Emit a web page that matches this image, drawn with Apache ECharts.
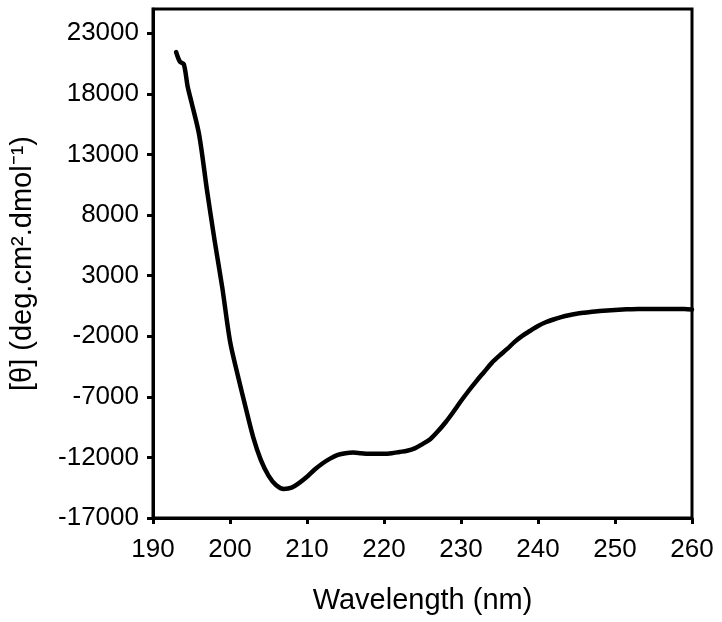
<!DOCTYPE html>
<html>
<head>
<meta charset="utf-8">
<script src="https://cdn.jsdelivr.net/npm/echarts@6/dist/echarts.min.js"></script>
<style>
	html, body { margin: 0; padding: 0; background: #fff; }
	#chart { width: 722px; height: 622px; }
</style>
</head>
<body>
<div id="chart"></div>
<script>
	// CD spectrum, wavelength (nm) vs mean residue ellipticity
	const wavelength = [193, 193.5, 194, 194.5, 195, 196, 197, 198, 199, 200,
		201, 202, 203, 204, 205, 206, 207, 208, 209, 210,
		211, 212, 213, 214, 215, 216, 217, 218, 219, 220,
		221, 222, 223, 224, 225, 226, 227, 228, 229, 230,
		231, 232, 233, 234, 235, 236, 237, 238, 239, 240,
		241, 242, 243, 244, 245, 246, 247, 248, 249, 250,
		251, 252, 253, 254, 255, 256, 257, 258, 259, 260]
	const theta = [21450, 20650, 20450, 18600, 17300, 14600, 10100, 5900, 2000, -2400,
		-5200, -7800, -10300, -12200, -13500, -14300, -14600, -14500, -14100, -13600,
		-13000, -12500, -12100, -11800, -11650, -11600, -11650, -11700, -11700, -11700,
		-11650, -11550, -11450, -11250, -10900, -10500, -9850, -9100, -8250, -7350,
		-6500, -5700, -4950, -4200, -3600, -3050, -2450, -1950, -1550, -1150,
		-850, -620, -430, -270, -150, -60, 20, 80, 130, 170,
		200, 230, 250, 250, 250, 250, 250, 250, 250, 200]
	const yTicks = [-17000, -12000, -7000, -2000, 3000, 8000, 13000, 18000, 23000]

	const font = 'Liberation Sans, Arial, sans-serif'
	const chart = echarts.init(document.getElementById('chart'))

	chart.setOption({
		animation: false,
		grid: {
			left: 152,
			right: 30,
			top: 9,
			bottom: 104,
			show: true,
			borderColor: '#000',
			borderWidth: 3
		},
		xAxis: {
			type: 'value',
			min: 190,
			max: 260,
			interval: 10,
			name: 'Wavelength (nm)',
			nameLocation: 'middle',
			nameGap: 68,
			nameTextStyle: { fontFamily: font, fontSize: 29, color: '#000' },
			axisLine: { onZero: false, lineStyle: { color: '#000', width: 3 } },
			axisTick: { length: 6, lineStyle: { color: '#000', width: 3 } },
			axisLabel: { margin: 19, fontFamily: font, fontSize: 26, color: '#000' },
			splitLine: { show: false }
		},
		yAxis: {
			type: 'value',
			min: -17000,
			max: 25000,
			name: '[θ] (deg.cm².dmol⁻¹)',
			nameLocation: 'middle',
			nameGap: 116,
			nameTextStyle: { fontFamily: font, fontSize: 29, color: '#000' },
			axisLine: { lineStyle: { color: '#000', width: 3 } },
			axisTick: { length: 6, customValues: yTicks, lineStyle: { color: '#000', width: 3 } },
			axisLabel: {
				margin: 14,
				customValues: yTicks,
				fontFamily: font,
				fontSize: 26,
				color: '#000',
				formatter: v => String(v)
			},
			splitLine: { show: false }
		},
		series: [{
			type: 'line',
			data: wavelength.map((w, i) => [w, theta[i]]),
			showSymbol: false,
			smooth: 0.3,
			lineStyle: { color: '#000', width: 4.5, cap: 'round', join: 'round' }
		}]
	})
</script>
</body>
</html>
